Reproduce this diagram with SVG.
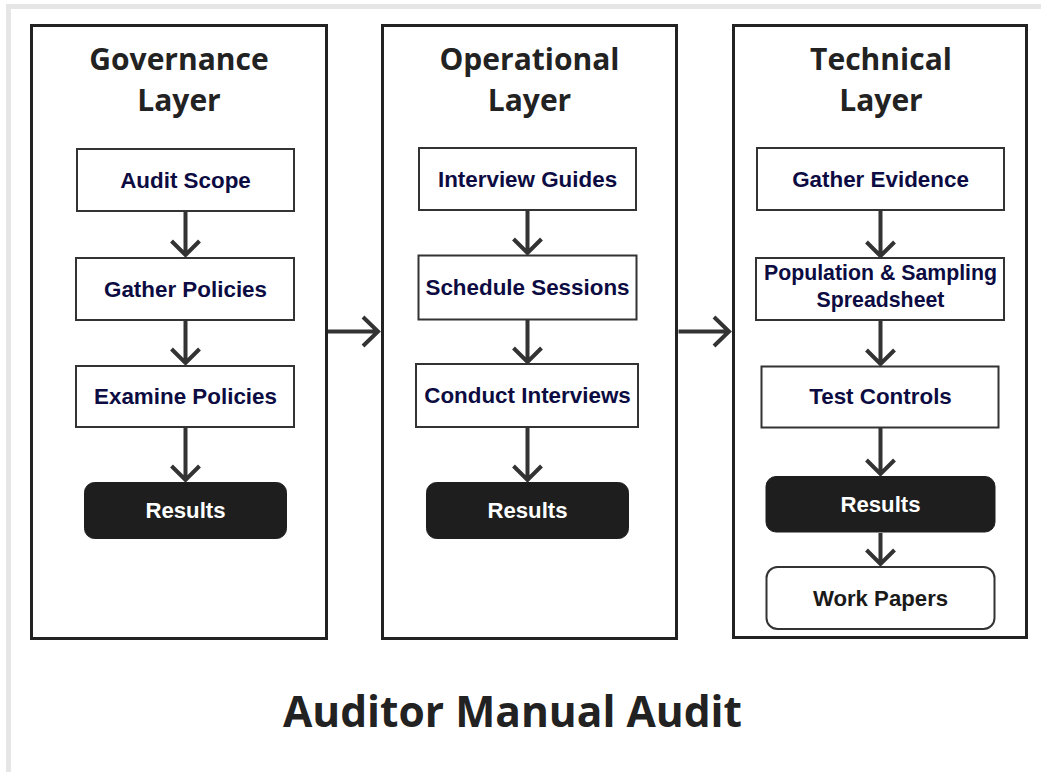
<svg xmlns="http://www.w3.org/2000/svg" width="1041" height="772" viewBox="0 0 1041 772">
<style>
.panel{fill:#fff;stroke:#222;stroke-width:3}
.title{font-family:"Open Sans","Noto Sans",sans-serif;font-weight:700;font-size:30px;fill:#222;text-anchor:middle}
.box{fill:#fff;stroke:#333;stroke-width:2}
.lbl{font-family:"Liberation Sans",Arial,sans-serif;font-weight:700;font-size:22.4px;fill:#0c0c42;text-anchor:middle}
.res{fill:#1e1e1e;stroke:#1e1e1e;stroke-width:1}
.rlbl{font-family:"Liberation Sans",Arial,sans-serif;font-weight:700;font-size:22.2px;fill:#fff;text-anchor:middle}
.wp{fill:#fff;stroke:#333;stroke-width:2}
.wlbl{font-family:"Liberation Sans",Arial,sans-serif;font-weight:700;font-size:22.2px;fill:#1a1a1a;text-anchor:middle}
.conn{fill:none;stroke:#333;stroke-width:4}
.main{font-family:"Open Sans","Noto Sans",sans-serif;font-weight:700;font-size:42.5px;fill:#222;text-anchor:middle}
</style>
<rect x="0" y="0" width="1041" height="772" fill="#fff"/>
<rect x="6" y="4" width="1035" height="5" fill="#e6e6e6"/>
<rect x="6" y="4" width="5" height="768" fill="#e6e6e6"/>

<g id="panel-governance">
<rect class="panel" x="31.5" y="25.5" width="295" height="613"/>
<text class="title" x="179" y="70">Governance</text>
<text class="title" x="179" y="111">Layer</text>
</g>
<g id="panel-operational">
<rect class="panel" x="382.5" y="25.5" width="294" height="613"/>
<text class="title" x="529.5" y="70">Operational</text>
<text class="title" x="529.5" y="111">Layer</text>
</g>
<g id="panel-technical">
<rect class="panel" x="733.5" y="25.5" width="293" height="612"/>
<text class="title" x="881" y="70">Technical</text>
<text class="title" x="881" y="111">Layer</text>
</g>

<g id="audit-scope"><rect class="box" x="77" y="149" width="217" height="62"/><text class="lbl" x="185.5" y="188">Audit Scope</text></g>
<g id="gather-policies"><rect class="box" x="76" y="258" width="218" height="62"/><text class="lbl" x="185.5" y="297">Gather Policies</text></g>
<g id="examine-policies"><rect class="box" x="76" y="366" width="218" height="61"/><text class="lbl" x="185.5" y="404">Examine Policies</text></g>
<g id="results-governance"><rect class="res" x="84.5" y="482.5" width="202" height="56" rx="10"/><text class="rlbl" x="185.5" y="518">Results</text></g>

<g id="interview-guides"><rect class="box" x="419" y="148" width="217" height="62"/><text class="lbl" x="527.5" y="187">Interview Guides</text></g>
<g id="schedule-sessions"><rect class="box" x="418.5" y="255.5" width="218" height="64"/><text class="lbl" x="527.5" y="295">Schedule Sessions</text></g>
<g id="conduct-interviews"><rect class="box" x="416" y="364" width="222" height="63"/><text class="lbl" x="527.5" y="403">Conduct Interviews</text></g>
<g id="results-operational"><rect class="res" x="426.5" y="482.5" width="202" height="56" rx="10"/><text class="rlbl" x="527.5" y="518">Results</text></g>

<g id="gather-evidence"><rect class="box" x="757" y="148" width="247" height="62"/><text class="lbl" x="880.5" y="187">Gather Evidence</text></g>
<g id="population-sampling"><rect class="box" x="756" y="258" width="248" height="62"/><text class="lbl" x="880.5" y="279.5" style="font-size:21.3px">Population &amp; Sampling</text><text class="lbl" x="880.5" y="306.5" style="font-size:21.3px">Spreadsheet</text></g>
<g id="test-controls"><rect class="box" x="761.5" y="366.5" width="237" height="61"/><text class="lbl" x="880.5" y="404">Test Controls</text></g>
<g id="results-technical"><rect class="res" x="766" y="476.5" width="229" height="55.5" rx="10"/><text class="rlbl" x="880.5" y="512">Results</text></g>
<g id="work-papers"><rect class="wp" x="766.5" y="567" width="228" height="62" rx="11"/><text class="wlbl" x="880.5" y="606">Work Papers</text></g>

<g id="connectors">
<path class="conn" d="M185.5 212V255M171.5 241L185.5 255L199.5 241"/>
<path class="conn" d="M185.5 321V363M171.5 349L185.5 363L199.5 349"/>
<path class="conn" d="M185.5 428V480M171.5 466L185.5 480L199.5 466"/>
<path class="conn" d="M527.5 211V253M513.5 239L527.5 253L541.5 239"/>
<path class="conn" d="M527.5 320V362M513.5 348L527.5 362L541.5 348"/>
<path class="conn" d="M527.5 428V480M513.5 466L527.5 480L541.5 466"/>
<path class="conn" d="M880.5 211V256M866.5 242L880.5 256L894.5 242"/>
<path class="conn" d="M880.5 321V364M866.5 350L880.5 364L894.5 350"/>
<path class="conn" d="M880.5 428V474M866.5 460L880.5 474L894.5 460"/>
<path class="conn" d="M880.5 533V564M866.5 550L880.5 564L894.5 550"/>
<path class="conn" d="M328 331.5H378M363 317L378 331.5L363 346"/>
<path class="conn" d="M678.5 331.5H729M714 317L729 331.5L714 346"/>
</g>

<text class="main" x="512.5" y="727">Auditor Manual Audit</text>
</svg>
